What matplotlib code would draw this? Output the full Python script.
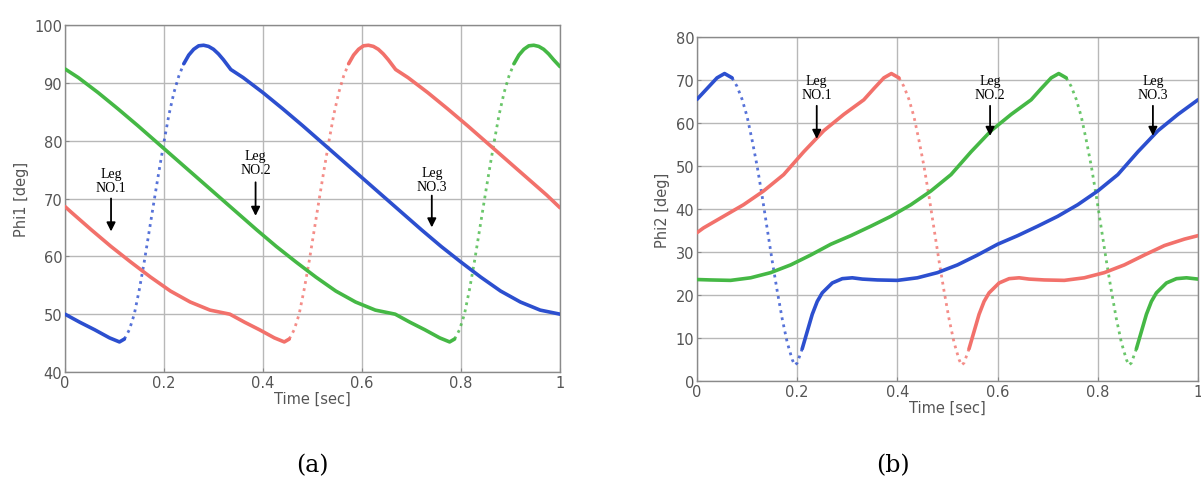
import numpy as np
import matplotlib
matplotlib.use("Agg")
import matplotlib.pyplot as plt

# ---------------- data ----------------
# (a) Phi1 [deg]
phi1_blue_t = [0.00, 0.03, 0.06, 0.09, 0.11, 0.12, 0.13, 0.14, 0.15, 0.16, 0.17, 0.18, 0.19, 0.20,
               0.21, 0.22, 0.23, 0.24, 0.25, 0.26, 0.27, 0.28, 0.29, 0.30, 0.31, 0.32, 0.335, 0.36,
               0.40, 0.44, 0.48, 0.52, 0.56, 0.60, 0.64, 0.68, 0.72, 0.76, 0.80, 0.84, 0.88, 0.92,
               0.96, 1.00]
phi1_blue = [50.0, 48.6, 47.3, 45.9, 45.2, 45.7, 47.3, 50.0, 54.2, 59.0, 64.3, 69.6, 74.8, 79.8,
             84.5, 88.3, 91.2, 93.3, 94.8, 95.8, 96.4, 96.5, 96.3, 95.8, 95.0, 94.0, 92.3, 90.9,
             88.3, 85.5, 82.6, 79.6, 76.6, 73.6, 70.6, 67.6, 64.6, 61.7, 59.0, 56.4, 54.0, 52.1,
             50.7, 50.0]

phi1_red_t = [0.000, 0.013, 0.053, 0.093, 0.133, 0.173, 0.213, 0.253, 0.293, 0.333, 0.363, 0.393,
              0.423, 0.443, 0.453, 0.463, 0.473, 0.483, 0.493, 0.503, 0.513, 0.523, 0.533, 0.543,
              0.553, 0.563, 0.573, 0.583, 0.593, 0.603, 0.613, 0.623, 0.633, 0.643, 0.653, 0.668,
              0.693, 0.733, 0.773, 0.813, 0.853, 0.893, 0.933, 0.973, 1.000]
phi1_red = [68.6, 67.6, 64.6, 61.7, 59.0, 56.4, 54.0, 52.1, 50.7, 50.0, 48.6, 47.3,
            45.9, 45.2, 45.7, 47.3, 50.0, 54.2, 59.0, 64.3, 69.6, 74.8, 79.8, 84.5,
            88.3, 91.2, 93.3, 94.8, 95.8, 96.4, 96.5, 96.3, 95.8, 95.0, 94.0, 92.3,
            90.9, 88.3, 85.5, 82.6, 79.6, 76.6, 73.6, 70.6, 68.4]

phi1_green_t = [0.000, 0.027, 0.067, 0.107, 0.147, 0.187, 0.227, 0.267, 0.307, 0.347, 0.387, 0.427,
                0.467, 0.507, 0.547, 0.587, 0.627, 0.667, 0.697, 0.727, 0.757, 0.777, 0.787, 0.797,
                0.807, 0.817, 0.827, 0.837, 0.847, 0.857, 0.867, 0.877, 0.887, 0.897, 0.907, 0.917,
                0.927, 0.937, 0.947, 0.957, 0.967, 0.977, 0.987, 1.000]
phi1_green = [92.4, 90.9, 88.3, 85.5, 82.6, 79.6, 76.6, 73.6, 70.6, 67.6, 64.6, 61.7,
              59.0, 56.4, 54.0, 52.1, 50.7, 50.0, 48.6, 47.3, 45.9, 45.2, 45.7, 47.3,
              50.0, 54.2, 59.0, 64.3, 69.6, 74.8, 79.8, 84.5, 88.3, 91.2, 93.3, 94.8,
              95.8, 96.4, 96.5, 96.3, 95.8, 95.0, 94.0, 92.8]

# (b) Phi2 [deg]
phi2_blue_t = [0.00, 0.02, 0.04, 0.055, 0.07, 0.08, 0.09, 0.10, 0.11, 0.12, 0.13, 0.14, 0.15, 0.16,
               0.17, 0.18, 0.19, 0.195, 0.20, 0.21, 0.22, 0.23, 0.24, 0.25, 0.27, 0.29, 0.31, 0.33,
               0.36, 0.40, 0.44, 0.48, 0.52, 0.56, 0.60, 0.64, 0.68, 0.72, 0.76, 0.80, 0.84, 0.88,
               0.92, 0.96, 1.00]
phi2_blue = [65.5, 68.0, 70.5, 71.5, 70.5, 68.5, 65.5, 61.5, 56.0, 50.0, 43.0, 35.5, 28.0, 21.0,
             14.5, 9.0, 5.0, 3.7, 4.2, 7.5, 11.5, 15.5, 18.5, 20.5, 22.8, 23.8, 24.0, 23.7,
             23.5, 23.4, 24.0, 25.2, 27.0, 29.3, 31.8, 33.8, 36.0, 38.3, 41.0, 44.2, 48.0, 53.3,
             58.2, 62.0, 65.4]

phi2_red_t = [0.000, 0.013, 0.053, 0.093, 0.133, 0.173, 0.213, 0.253, 0.293, 0.333, 0.353, 0.373,
              0.388, 0.403, 0.413, 0.423, 0.433, 0.443, 0.453, 0.463, 0.473, 0.483, 0.493, 0.503,
              0.513, 0.523, 0.528, 0.533, 0.543, 0.553, 0.563, 0.573, 0.583, 0.603, 0.623, 0.643,
              0.663, 0.693, 0.733, 0.773, 0.813, 0.853, 0.893, 0.933, 0.973, 1.000]
phi2_red = [34.5, 35.6, 38.3, 41.0, 44.2, 48.0, 53.3, 58.2, 62.0, 65.4, 68.0, 70.5,
            71.5, 70.5, 68.5, 65.5, 61.5, 56.0, 50.0, 43.0, 35.5, 28.0, 21.0, 14.5,
            9.0, 5.0, 3.7, 4.2, 7.5, 11.5, 15.5, 18.5, 20.5, 22.8, 23.8, 24.0,
            23.7, 23.5, 23.4, 24.0, 25.2, 27.0, 29.3, 31.5, 33.0, 33.8]

phi2_green_t = [0.000, 0.027, 0.067, 0.107, 0.147, 0.187, 0.227, 0.267, 0.307, 0.347, 0.387, 0.427,
                0.467, 0.507, 0.547, 0.587, 0.627, 0.667, 0.687, 0.707, 0.722, 0.737, 0.747, 0.757,
                0.767, 0.777, 0.787, 0.797, 0.807, 0.817, 0.827, 0.837, 0.847, 0.857, 0.862, 0.867,
                0.877, 0.887, 0.897, 0.907, 0.917, 0.937, 0.957, 0.977, 1.000]
phi2_green = [23.6, 23.5, 23.4, 24.0, 25.2, 27.0, 29.3, 31.8, 33.8, 36.0, 38.3, 41.0,
              44.2, 48.0, 53.3, 58.2, 62.0, 65.4, 68.0, 70.5, 71.5, 70.5, 68.5, 65.5,
              61.5, 56.0, 50.0, 43.0, 35.5, 28.0, 21.0, 14.5, 9.0, 5.0, 3.7, 4.2,
              7.5, 11.5, 15.5, 18.5, 20.5, 22.8, 23.8, 24.0, 23.7]

x_ticks = [0, 0.2, 0.4, 0.6, 0.8, 1]
x_ticklabels = ["0", "0.2", "0.4", "0.6", "0.8", "1"]
phi1_yticks = [40, 50, 60, 70, 80, 90, 100]
phi2_yticks = [0, 10, 20, 30, 40, 50, 60, 70, 80]

leg_labels = ["Leg\nNO.1", "Leg\nNO.2", "Leg\nNO.3"]
phi1_leg_x = [0.093, 0.385, 0.741]
phi2_leg_x = [0.239, 0.585, 0.910]

# ---------------- styling ----------------
BLUE = "#2c4fcf"
RED = "#f2716b"
GREEN = "#45b845"
GRID = "#b8b8b8"
SPINE = "#8a8a8a"
TICKC = "#555555"

fig = plt.figure(figsize=(12.01, 4.89), dpi=100)
fig.patch.set_facecolor("white")

ax1 = fig.add_axes([65 / 1201, 1 - 373 / 489, 495 / 1201, 347 / 489])
ax2 = fig.add_axes([697 / 1201, 1 - 382 / 489, 501 / 1201, 344 / 489])


def draw_series(ax, t, y, color, swing):
    t = np.asarray(t, float)
    y = np.asarray(y, float)
    a, b = swing
    inside = (t > a) & (t < b)
    ext = inside.copy()
    idx = np.where(inside)[0]
    if len(idx):
        ext[max(idx[0] - 1, 0)] = True
        ext[min(idx[-1] + 1, len(t) - 1)] = True
    y_solid = np.where(inside, np.nan, y)
    y_dot = np.where(ext, y, np.nan)
    ax.plot(t, y_dot, color=color, lw=2.0, ls=(0, (1, 1.6)), alpha=0.8,
            solid_capstyle="round", zorder=3)
    ax.plot(t, y_solid, color=color, lw=2.6, solid_capstyle="round",
            solid_joinstyle="round", zorder=4)


def style_axes(ax, yticks, ylabel):
    ax.set_xlim(0, 1)
    ax.set_ylim(yticks[0], yticks[-1])
    ax.set_xticks(x_ticks)
    ax.set_xticklabels(x_ticklabels)
    ax.set_yticks(yticks)
    ax.grid(True, color=GRID, lw=1.0)
    ax.set_axisbelow(True)
    for s in ax.spines.values():
        s.set_color(SPINE)
        s.set_linewidth(1.0)
    ax.tick_params(direction="in", length=3, color=SPINE, labelsize=10.5,
                   labelcolor=TICKC, pad=2)
    ax.set_xlabel("Time [sec]", fontsize=10.5, color=TICKC, labelpad=1)
    ax.set_ylabel(ylabel, fontsize=10.5, color=TICKC, labelpad=4)


style_axes(ax1, phi1_yticks, "Phi1 [deg]")
style_axes(ax2, phi2_yticks, "Phi2 [deg]")

draw_series(ax1, phi1_green_t, phi1_green, GREEN, (0.792, 0.905))
draw_series(ax1, phi1_red_t, phi1_red, RED, (0.458, 0.570))
draw_series(ax1, phi1_blue_t, phi1_blue, BLUE, (0.125, 0.237))

draw_series(ax2, phi2_green_t, phi2_green, GREEN, (0.742, 0.875))
draw_series(ax2, phi2_red_t, phi2_red, RED, (0.408, 0.540))
draw_series(ax2, phi2_blue_t, phi2_blue, BLUE, (0.075, 0.205))

# Leg annotations
phi1_text_y = [73.1, 76.2, 73.3]
phi1_arrow = [(70.0, 64.3), (72.8, 67.0), (70.5, 65.0)]
for x, lab, ty, (a0, a1) in zip(phi1_leg_x, leg_labels, phi1_text_y, phi1_arrow):
    ax1.text(x, ty, lab, ha="center", va="center", fontsize=10,
             family="Liberation Serif", linespacing=1.05, zorder=6)
    ax1.annotate("", xy=(x, a1), xytext=(x, a0),
                 arrowprops=dict(arrowstyle="-|>", color="black", lw=1.3,
                                 mutation_scale=13, shrinkA=0, shrinkB=0), zorder=6)

phi2_text_y = [68.3, 68.3, 68.3]
phi2_arrow = [(64.0, 56.3), (64.0, 57.0), (64.0, 57.0)]
for x, lab, ty, (a0, a1) in zip(phi2_leg_x, leg_labels, phi2_text_y, phi2_arrow):
    ax2.text(x, ty, lab, ha="center", va="center", fontsize=10,
             family="Liberation Serif", linespacing=1.05, zorder=6)
    ax2.annotate("", xy=(x, a1), xytext=(x, a0),
                 arrowprops=dict(arrowstyle="-|>", color="black", lw=1.3,
                                 mutation_scale=13, shrinkA=0, shrinkB=0), zorder=6)

fig.text(312 / 1201, 1 - 466 / 489, "(a)", ha="center", va="center",
         fontsize=17, family="DejaVu Serif")
fig.text(893 / 1201, 1 - 466 / 489, "(b)", ha="center", va="center",
         fontsize=17, family="DejaVu Serif")

fig.savefig("out.png", dpi=100, facecolor="white")
